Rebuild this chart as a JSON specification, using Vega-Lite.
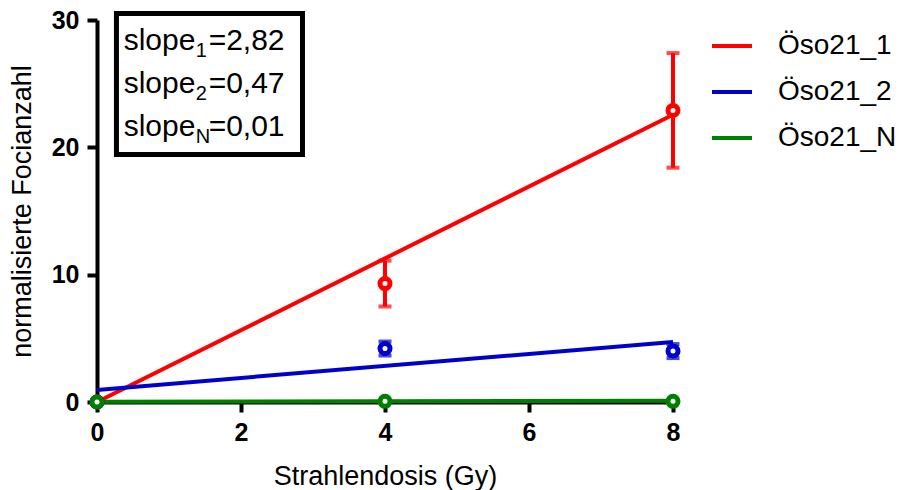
{
  "$schema": "https://vega.github.io/schema/vega-lite/v6.json",
  "autosize": {"type": "none"},
  "padding": {"left": 97, "top": 20, "right": 233, "bottom": 88},
  "width": 576,
  "height": 382,
  "background": "white",
  "config": {
    "view": {"stroke": null},
    "font": "Liberation Sans",
    "axis": {
      "grid": false,
      "domainColor": "black",
      "domainWidth": 4,
      "tickColor": "black",
      "tickWidth": 4,
      "tickSize": 10,
      "labelFont": "Liberation Sans",
      "labelFontWeight": "bold",
      "labelFontSize": 25,
      "labelColor": "black",
      "labelFlush": false,
      "titleFont": "Liberation Sans",
      "titleFontWeight": "normal",
      "titleFontSize": 27,
      "titleColor": "black",
      "format": "d"
    },
    "legend": {
      "symbolType": "stroke",
      "symbolSize": 1600,
      "symbolStrokeWidth": 4,
      "labelFont": "Liberation Sans",
      "labelFontSize": 28,
      "labelColor": "black",
      "labelOffset": 24,
      "rowPadding": 10,
      "padding": 0
    }
  },
  "datasets": {
    "points": [
      {"series": "Öso21_1", "dose": 0, "mean": 0.0, "lo": 0.0, "hi": 0.0},
      {"series": "Öso21_1", "dose": 4, "mean": 9.3, "lo": 7.5, "hi": 11.1},
      {"series": "Öso21_1", "dose": 8, "mean": 22.9, "lo": 18.4, "hi": 27.4},
      {"series": "Öso21_2", "dose": 0, "mean": 0.0, "lo": 0.0, "hi": 0.0},
      {"series": "Öso21_2", "dose": 4, "mean": 4.2, "lo": 3.65, "hi": 4.75},
      {"series": "Öso21_2", "dose": 8, "mean": 4.0, "lo": 3.45, "hi": 4.55},
      {"series": "Öso21_N", "dose": 0, "mean": 0.0, "lo": 0.0, "hi": 0.0},
      {"series": "Öso21_N", "dose": 4, "mean": 0.05, "lo": 0.03, "hi": 0.07},
      {"series": "Öso21_N", "dose": 8, "mean": 0.05, "lo": 0.03, "hi": 0.07}
    ],
    "fits": [
      {"series": "Öso21_1", "dose": 0, "fit": 0.0},
      {"series": "Öso21_1", "dose": 8, "fit": 22.56},
      {"series": "Öso21_2", "dose": 0, "fit": 0.95},
      {"series": "Öso21_2", "dose": 8, "fit": 4.71},
      {"series": "Öso21_N", "dose": 0, "fit": 0.02},
      {"series": "Öso21_N", "dose": 8, "fit": 0.1}
    ],
    "box": [
      {"x1": 0.27, "x2": 2.854, "y1": 19.44, "y2": 30.51}
    ],
    "labels": [
      {"lead": "slope", "sub": "1", "rest": "=2,82", "dose": 0.37, "count": 27.64},
      {"lead": "slope", "sub": "2", "rest": "=0,47", "dose": 0.37, "count": 24.27},
      {"lead": "slope", "sub": "N", "rest": "=0,01", "dose": 0.37, "count": 20.89}
    ]
  },
  "layer": [
    {
      "data": {"name": "fits"},
      "mark": {"type": "line", "strokeWidth": 4, "clip": false},
      "encoding": {
        "x": {
          "field": "dose", "type": "quantitative",
          "scale": {"domain": [0, 8], "nice": false},
          "axis": {"values": [0, 2, 4, 6, 8], "title": "Strahlendosis (Gy)", "labelPadding": 8, "titlePadding": 18}
        },
        "y": {
          "field": "fit", "type": "quantitative",
          "scale": {"domain": [0, 30], "nice": false},
          "axis": {"values": [0, 10, 20, 30], "title": "normalisierte Focianzahl", "labelPadding": 8, "titlePadding": 15}
        },
        "color": {
          "field": "series", "type": "nominal",
          "scale": {"domain": ["Öso21_1", "Öso21_2", "Öso21_N"], "range": ["#ff0000", "#0000cc", "#008000"]},
          "legend": {"title": null, "orient": "none", "legendX": 613, "legendY": 4}
        }
      }
    },
    {
      "data": {"name": "points"},
      "mark": {"type": "errorbar", "ticks": {"size": 13, "thickness": 4}, "thickness": 4, "clip": false},
      "encoding": {
        "x": {"field": "dose", "type": "quantitative", "title": "Strahlendosis (Gy)"},
        "y": {"field": "lo", "type": "quantitative", "title": "normalisierte Focianzahl"},
        "y2": {"field": "hi"},
        "color": {"field": "series", "type": "nominal", "legend": null}
      }
    },
    {
      "data": {"name": "points"},
      "mark": {"type": "point", "shape": "circle", "filled": false, "fill": "white", "fillOpacity": 1, "opacity": 1, "size": 100, "strokeWidth": 5, "clip": false},
      "encoding": {
        "x": {"field": "dose", "type": "quantitative", "title": "Strahlendosis (Gy)"},
        "y": {"field": "mean", "type": "quantitative", "title": "normalisierte Focianzahl"},
        "color": {"field": "series", "type": "nominal", "legend": null}
      }
    },
    {
      "data": {"name": "box"},
      "mark": {"type": "rect", "fill": "white", "stroke": "black", "strokeWidth": 5, "clip": false},
      "encoding": {
        "x": {"field": "x1", "type": "quantitative", "title": "Strahlendosis (Gy)"},
        "x2": {"field": "x2"},
        "y": {"field": "y1", "type": "quantitative", "title": "normalisierte Focianzahl"},
        "y2": {"field": "y2"}
      }
    },
    {
      "data": {"name": "labels"},
      "mark": {"type": "text", "align": "left", "baseline": "alphabetic", "fontSize": 30, "font": "Liberation Sans", "color": "black"},
      "encoding": {
        "x": {"field": "dose", "type": "quantitative", "title": "Strahlendosis (Gy)"},
        "y": {"field": "count", "type": "quantitative", "title": "normalisierte Focianzahl"},
        "text": {"field": "lead"}
      }
    },
    {
      "data": {"name": "labels"},
      "mark": {"type": "text", "align": "left", "baseline": "alphabetic", "fontSize": 20, "dx": 72, "dy": 7, "font": "Liberation Sans", "color": "black"},
      "encoding": {
        "x": {"field": "dose", "type": "quantitative", "title": "Strahlendosis (Gy)"},
        "y": {"field": "count", "type": "quantitative", "title": "normalisierte Focianzahl"},
        "text": {"field": "sub"}
      }
    },
    {
      "data": {"name": "labels"},
      "mark": {"type": "text", "align": "left", "baseline": "alphabetic", "fontSize": 30, "dx": 85, "font": "Liberation Sans", "color": "black"},
      "encoding": {
        "x": {"field": "dose", "type": "quantitative", "title": "Strahlendosis (Gy)"},
        "y": {"field": "count", "type": "quantitative", "title": "normalisierte Focianzahl"},
        "text": {"field": "rest"}
      }
    }
  ]
}
